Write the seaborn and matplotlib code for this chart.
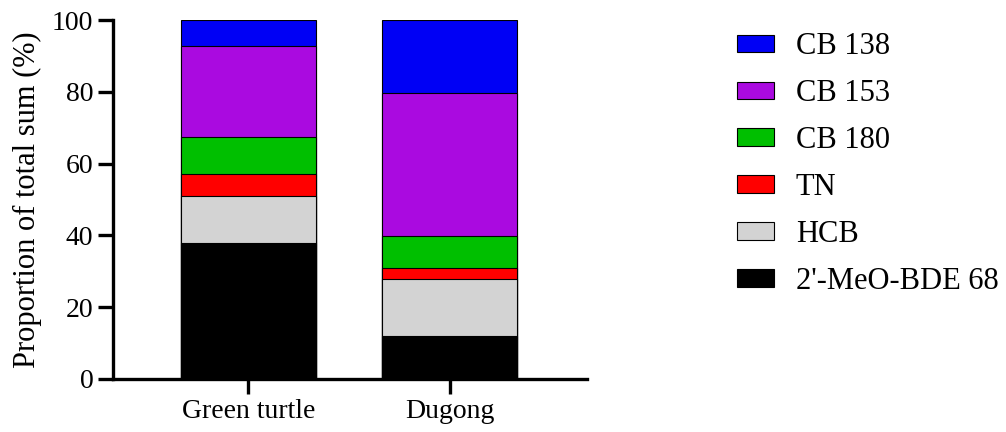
import numpy as np
import matplotlib
matplotlib.use('Agg')
import matplotlib.pyplot as plt
from matplotlib.patches import Patch
import seaborn as sns

# ==================== data ====================
categories = ['Green turtle', 'Dugong']
components = ["2'-MeO-BDE 68", 'HCB', 'TN', 'CB 180', 'CB 153', 'CB 138']
meo_bde68 = [38.0, 12.0]
hcb = [13.0, 15.8]
tn = [6.2, 3.0]
cb180 = [10.2, 9.1]
cb153 = [25.4, 39.8]
cb138 = [7.2, 20.3]
colors = ['#000000', '#d3d3d3', '#ff0000', '#00bf00', '#aa0ae0', '#0000f5']

# ==================== style ====================
sns.set_style('ticks')
plt.rcParams['font.family'] = ['Liberation Serif', 'DejaVu Serif']
plt.rcParams['text.color'] = 'black'
plt.rcParams['axes.labelcolor'] = 'black'
plt.rcParams['xtick.color'] = 'black'
plt.rcParams['ytick.color'] = 'black'

fig = plt.figure(figsize=(10.06, 4.32), dpi=100)
ax = fig.add_axes([0.1128, 0.1227, 0.4707, 0.831])

# 堆叠：先画总高度，再逐层往下覆盖
layers = [meo_bde68, hcb, tn, cb180, cb153, cb138]
cum = np.cumsum(np.array(layers), axis=0)
for i in range(len(layers) - 1, -1, -1):
    sns.barplot(x=categories, y=cum[i], color=colors[i], saturation=1,
                width=0.67, edgecolor='black', linewidth=0.8, ax=ax)

ax.set_xlim(-0.67, 1.68)
ax.set_ylim(0, 100)
ax.set_yticks([0, 20, 40, 60, 80, 100])
ax.set_ylabel('Proportion of total sum (%)', fontsize=22, labelpad=7)
ax.set_xlabel('')
sns.despine(ax=ax)
for side in ['left', 'bottom']:
    ax.spines[side].set_linewidth(2.4)
    ax.spines[side].set_color('black')
ax.tick_params(axis='both', width=2.4, length=11, color='black',
               labelsize=20, pad=3.5)

# 图例（顺序与堆叠相反）
handles = [Patch(facecolor=colors[i], edgecolor='black', linewidth=0.8,
                 label=components[i]) for i in range(len(components) - 1, -1, -1)]
fig.legend(handles=handles, loc='upper left', bbox_to_anchor=(737 / 1006, 0.925),
           frameon=False, handlelength=1.2, handleheight=0.52,
           handletextpad=0.72, labelspacing=0.585, borderpad=0, borderaxespad=0,
           fontsize=22)

fig.savefig('out.png', dpi=100)
